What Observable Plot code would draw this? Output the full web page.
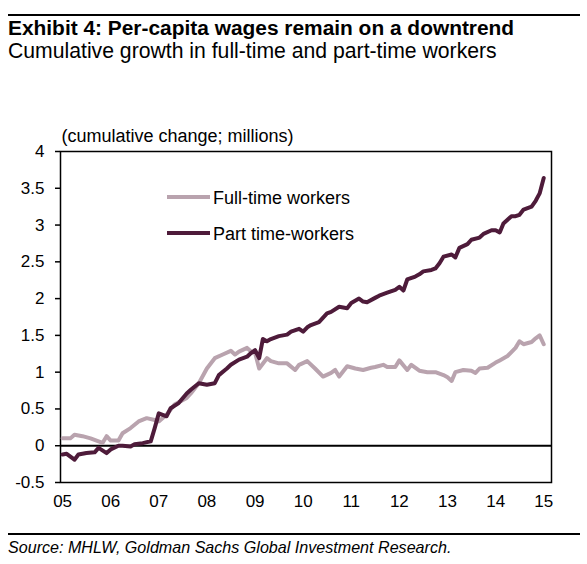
<!DOCTYPE html>
<html>
<head>
<meta charset="utf-8">
<script src="https://cdn.jsdelivr.net/npm/d3@7"></script>
<script src="https://cdn.jsdelivr.net/npm/@observablehq/plot@0.6"></script>
<style>
  html, body { margin: 0; padding: 0; background: #fff; }
  body { font-family: "Liberation Sans", Arial, sans-serif; color: #000; }
  #wrap { position: relative; width: 587px; height: 564px; overflow: hidden; }
  .rule { position: absolute; left: 8px; width: 572px; height: 2px; background: #000; }
  #title { position: absolute; left: 8px; top: 16px; font-weight: bold; font-size: 20.9px; white-space: nowrap; }
  #subtitle { position: absolute; left: 8px; top: 39px; font-size: 21.2px; white-space: nowrap; }
  #chart { position: absolute; left: 0; top: 110px; }
  #legend { position: absolute; left: 0; top: 0; pointer-events: none; }
  #source { position: absolute; left: 8px; top: 538px; font-size: 16.1px; font-style: italic; white-space: nowrap; }
</style>
</head>
<body>
<div id="wrap">
  <div class="rule" style="top:14px"></div>
  <div id="title">Exhibit 4: Per-capita wages remain on a downtrend</div>
  <div id="subtitle">Cumulative growth in full-time and part-time workers</div>
  <div id="chart"></div>
  <svg id="legend" width="587" height="564"></svg>
  <div class="rule" style="top:533px"></div>
  <div id="source">Source: MHLW, Goldman Sachs Global Investment Research.</div>
</div>
<script>
// ---- data ----
const seriesNames = ["Full-time workers", "Part time-workers"];
const seriesColors = ["#b9a3ae", "#4e1b3a"];

const fullTimeDates = [
  "2005-01","2005-03","2005-04","2005-06","2005-08","2005-10","2005-11","2005-12",
  "2006-01","2006-03","2006-04","2006-06","2006-08","2006-10","2006-12",
  "2007-01","2007-03","2007-05","2007-08","2007-09","2007-11",
  "2008-01","2008-03","2008-05","2008-07","2008-08","2008-09","2008-11","2008-12",
  "2009-01","2009-02","2009-04","2009-05","2009-07","2009-09","2009-11","2009-12",
  "2010-02","2010-04","2010-06","2010-08","2010-09","2010-10","2010-12",
  "2011-02","2011-04","2011-06","2011-07","2011-09","2011-10","2011-12",
  "2012-01","2012-03","2012-04","2012-06","2012-08","2012-10","2012-12",
  "2013-01","2013-02","2013-03","2013-05","2013-07","2013-08","2013-09","2013-11",
  "2014-01","2014-02","2014-04","2014-06","2014-07","2014-08","2014-10","2014-11","2014-12",
  "2015-01"
];
const fullTimeValues = [
  0.10,0.10,0.15,0.13,0.10,0.06,0.04,0.13,
  0.07,0.07,0.17,0.24,0.33,0.375,0.35,
  0.33,0.42,0.56,0.65,0.71,0.85,
  1.05,1.19,1.24,1.29,1.24,1.28,1.33,1.28,
  1.26,1.05,1.19,1.15,1.12,1.12,1.03,1.10,
  1.15,1.05,0.94,0.99,1.03,0.94,1.08,
  1.05,1.03,1.06,1.07,1.10,1.07,1.07,
  1.16,1.03,1.10,1.02,1.00,1.00,0.96,
  0.93,0.88,1.00,1.03,1.02,0.99,1.05,1.06,
  1.13,1.16,1.22,1.33,1.42,1.38,1.41,1.46,1.50,
  1.38
];

const partTimeDates = [
  "2005-01","2005-02","2005-04","2005-05","2005-07","2005-09","2005-10","2005-12",
  "2006-01","2006-03","2006-04","2006-06","2006-07","2006-09","2006-11","2006-12",
  "2007-01","2007-03","2007-04","2007-06","2007-08","2007-09","2007-11",
  "2008-01","2008-03","2008-04","2008-06","2008-07","2008-09","2008-11","2008-12",
  "2009-01","2009-02","2009-03","2009-04","2009-05","2009-07","2009-09","2009-10","2009-12",
  "2010-01","2010-02","2010-03","2010-05","2010-07","2010-08","2010-10","2010-12",
  "2011-01","2011-03","2011-04","2011-05","2011-07","2011-08","2011-10","2011-12",
  "2012-01","2012-02","2012-03","2012-05","2012-06","2012-07","2012-09","2012-10","2012-11","2012-12",
  "2013-02","2013-03","2013-04","2013-06","2013-07","2013-09","2013-10","2013-12",
  "2014-01","2014-02","2014-03","2014-05","2014-06","2014-07","2014-08","2014-10","2014-11","2014-12",
  "2015-01"
];
const partTimeValues = [
  -0.12,-0.11,-0.19,-0.12,-0.10,-0.09,-0.03,-0.10,
  -0.05,0.00,0.00,-0.01,0.02,0.035,0.06,0.24,
  0.44,0.40,0.51,0.58,0.71,0.76,0.85,
  0.83,0.85,0.96,1.05,1.10,1.17,1.21,1.26,
  1.30,1.19,1.45,1.42,1.45,1.49,1.51,1.55,1.59,
  1.55,1.61,1.64,1.68,1.80,1.82,1.89,1.87,
  1.94,2.00,1.96,1.95,2.01,2.04,2.08,2.12,
  2.16,2.11,2.26,2.30,2.33,2.37,2.39,2.41,2.48,2.57,
  2.60,2.56,2.69,2.74,2.80,2.83,2.88,2.93,
  2.93,2.90,3.02,3.12,3.12,3.14,3.21,3.25,3.33,3.43,
  3.64
];

const yTicks = [-0.5, 0, 0.5, 1, 1.5, 2, 2.5, 3, 3.5, 4];
const xTickYears = [2005, 2006, 2007, 2008, 2009, 2010, 2011, 2012, 2013, 2014, 2015];
const yLabel = "(cumulative change; millions)";

// ---- build tables ----
const parse = d3.utcParse("%Y-%m");
const fullTime = fullTimeDates.map((d, i) => ({date: parse(d), value: fullTimeValues[i]}));
const partTime = partTimeDates.map((d, i) => ({date: parse(d), value: partTimeValues[i]}));
const xTicks = xTickYears.map(y => new Date(Date.UTC(y, 0, 1)));

const font = '"Liberation Sans", Arial, sans-serif';

const chart = Plot.plot({
  width: 587,
  height: 410,
  marginLeft: 60,
  marginRight: 36,
  marginTop: 41,
  marginBottom: 38,
  style: {fontFamily: font, fontSize: "17px", color: "#000", background: "#fff"},
  x: {type: "utc", domain: [new Date(Date.UTC(2004, 11, 16)), new Date(Date.UTC(2015, 2, 1))]},
  y: {domain: [-0.5, 4]},
  marks: [
    Plot.frame({stroke: "#000", strokeWidth: 1.5}),
    Plot.ruleY([0], {stroke: "#000", strokeWidth: 2}),
    Plot.line(fullTime, {x: "date", y: "value", stroke: seriesColors[0], strokeWidth: 4, strokeLinejoin: "round", strokeLinecap: "round"}),
    Plot.line(partTime, {x: "date", y: "value", stroke: seriesColors[1], strokeWidth: 4, strokeLinejoin: "round", strokeLinecap: "round"}),
    Plot.axisY({ticks: yTicks, tickSize: 5, tickPadding: 11, tickFormat: d => String(d), label: null, fontSize: 17, strokeWidth: 1.5}),
    Plot.axisX({ticks: xTicks, tickSize: 0, tickPadding: 12, tickFormat: d3.utcFormat("%y"), label: null, fontSize: 17}),
    Plot.text([yLabel], {frameAnchor: "top-left", textAnchor: "start", lineAnchor: "middle", dx: 1, dy: -15, fontSize: 18})
  ]
});
document.getElementById("chart").appendChild(chart);

// ---- legend (inside plot area) ----
const ns = "http://www.w3.org/2000/svg";
const legend = document.getElementById("legend");
seriesNames.forEach((name, i) => {
  const cy = 197 + i * 36;
  const ln = document.createElementNS(ns, "line");
  ln.setAttribute("x1", 167); ln.setAttribute("x2", 210);
  ln.setAttribute("y1", cy); ln.setAttribute("y2", cy);
  ln.setAttribute("stroke", seriesColors[i]); ln.setAttribute("stroke-width", 4);
  legend.appendChild(ln);
  const tx = document.createElementNS(ns, "text");
  tx.setAttribute("x", 213); tx.setAttribute("y", cy + 6.5);
  tx.setAttribute("font-family", font); tx.setAttribute("font-size", 18);
  tx.setAttribute("fill", "#000");
  tx.textContent = name;
  legend.appendChild(tx);
});
</script>
</body>
</html>
